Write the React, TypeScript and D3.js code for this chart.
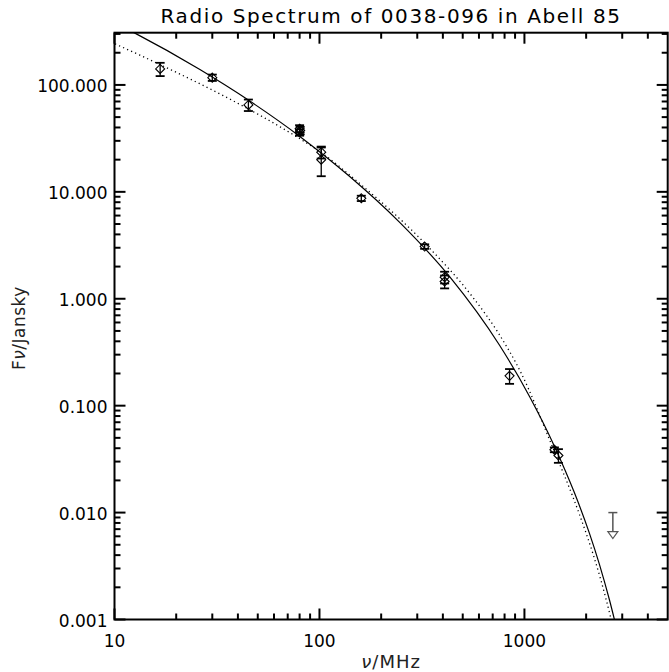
import * as d3 from 'd3';

const titleText = 'Radio Spectrum of 0038-096 in Abell 85';

// measured flux densities (MHz, Jy, 1-sigma error)
const freqMHz = [16.7, 30, 45, 80, 80, 80.5, 102, 102, 160, 326, 408, 408, 846, 1400, 1465];
const fluxJy = [141, 117, 65, 39, 36, 37.5, 23.5, 20, 8.7, 3.08, 1.59, 1.45, 0.19, 0.0387, 0.0342];
const fluxErr = [20, 8, 8, 3, 2.5, 3, 3, 6, 0.5, 0.15, 0.2, 0.2, 0.03, 0.002, 0.005];

// upper limit
const limitFreq = [2700];
const limitFlux = [0.01];

// solid model curve
const fitFreq = [10, 12.45, 26.1, 45.75, 80.2, 140.5, 246.2, 431.5, 756.2, 1059, 1402, 1754, 2076, 2322, 2598, 2907];
const fitFlux = [382, 308.5, 139.2, 70.6, 33.0, 13.9, 5.18, 1.61, 0.367, 0.122, 0.0416, 0.0153, 0.00639, 0.00328, 0.00153, 0.00064];

// dotted model curve
const altFreq = [10.06, 13.31, 16.8, 33.9, 77.25, 100.3, 160.2, 326, 560.3, 742, 964.8, 1351, 1856, 2159, 2341, 2649, 2843];
const altFlux = [241.8, 189.8, 153.9, 79.5, 32.8, 23.8, 11.6, 3.31, 1.031, 0.486, 0.201, 0.044, 0.00959, 0.00412, 0.00247, 0.001, 0.00056];

const xTicks = [10, 100, 1000];
const xTickLabels = ['10', '100', '1000'];
const yTicks = [0.001, 0.01, 0.1, 1, 10, 100];
const yTickLabels = ['0.001', '0.010', '0.100', '1.000', '10.000', '100.000'];

const W = 669;
const H = 672;
const margin = { top: 32.7, right: 1.3, bottom: 52.5, left: 114.5 };
const font = "'DejaVu Sans', sans-serif";

const App = () => {
  const x0 = margin.left;
  const x1 = W - margin.right;
  const y0 = H - margin.bottom;
  const y1 = margin.top;

  const x = d3.scaleLog().domain([10, 5000]).range([x0, x1]);
  const y = d3.scaleLog().domain([0.001, 308]).range([y0, y1]);

  const isMajor = (list: number[], t: number) => list.some(m => Math.abs(m - t) / m < 1e-6);
  const xMinor = x.ticks().filter(t => !isMajor(xTicks, t) && t > 10 && t < 5000);
  const yMinor = y.ticks().filter(t => !isMajor(yTicks, t) && t > 0.001 && t < 308);

  const line = d3.line<[number, number]>()
    .x(d => x(d[0]))
    .y(d => y(d[1]))
    .curve(d3.curveMonotoneX);

  const fitPath = line(fitFreq.map((f, i) => [f, fitFlux[i]])) || '';
  const altPath = line(altFreq.map((f, i) => [f, altFlux[i]])) || '';

  const major = 11;
  const minor = 6;
  const cap = 4.5;
  const dia = 4.5;

  return (
    <svg width={W} height={H} style={{ position: 'absolute', left: 0, top: 0, background: '#fff' }}>
      <defs>
        <clipPath id="plot">
          <rect x={x0} y={y1} width={x1 - x0} height={y0 - y1} />
        </clipPath>
      </defs>
      <rect x={0} y={0} width={W} height={H} fill="#fff" />

      {/* title */}
      <text x={(x0 + x1) / 2} y={22.7} textAnchor="middle" fontFamily={font} fontSize={20} letterSpacing={1.6} fill="#000">
        {titleText}
      </text>

      {/* model curves */}
      <g clipPath="url(#plot)" fill="none" stroke="#000">
        <path d={fitPath} strokeWidth={1.2} />
        <path d={altPath} strokeWidth={1.3} strokeDasharray="1.2 3.2" />
      </g>

      {/* data points */}
      <g stroke="#000" fill="none" strokeWidth={1.3}>
        {freqMHz.map((f, i) => {
          const cx = x(f);
          const cy = y(fluxJy[i]);
          const top = y(fluxJy[i] + fluxErr[i]);
          const bot = y(fluxJy[i] - fluxErr[i]);
          return (
            <g key={i}>
              <line x1={cx} x2={cx} y1={top} y2={bot} />
              <line x1={cx - cap} x2={cx + cap} y1={top} y2={top} strokeWidth={1.8} />
              <line x1={cx - cap} x2={cx + cap} y1={bot} y2={bot} strokeWidth={1.8} />
              <path d={`M${cx},${cy - dia}L${cx + dia},${cy}L${cx},${cy + dia}L${cx - dia},${cy}Z`} strokeWidth={1.1} />
            </g>
          );
        })}
      </g>

      {/* upper limit */}
      <g stroke="#555" fill="none" strokeWidth={1.5}>
        {limitFreq.map((f, i) => {
          const cx = x(f);
          const cy = y(limitFlux[i]);
          return (
            <g key={i}>
              <line x1={cx - cap} x2={cx + cap} y1={cy} y2={cy} />
              <line x1={cx} x2={cx} y1={cy} y2={cy + 19} />
              <path d={`M${cx - 5},${cy + 19}L${cx + 5},${cy + 19}L${cx},${cy + 26}Z`} strokeWidth={1.2} />
            </g>
          );
        })}
      </g>

      {/* axes box */}
      <rect x={x0} y={y1} width={x1 - x0} height={y0 - y1} fill="none" stroke="#000" strokeWidth={2} />

      {/* ticks on all four sides */}
      <g stroke="#000" strokeWidth={2}>
        {xTicks.map(t => (
          <g key={'xM' + t}>
            <line x1={x(t)} x2={x(t)} y1={y0} y2={y0 - major} />
            <line x1={x(t)} x2={x(t)} y1={y1} y2={y1 + major} />
          </g>
        ))}
        {xMinor.map(t => (
          <g key={'xm' + t}>
            <line x1={x(t)} x2={x(t)} y1={y0} y2={y0 - minor} />
            <line x1={x(t)} x2={x(t)} y1={y1} y2={y1 + minor} />
          </g>
        ))}
        {yTicks.map(t => (
          <g key={'yM' + t}>
            <line x1={x0} x2={x0 + major} y1={y(t)} y2={y(t)} />
            <line x1={x1} x2={x1 - major} y1={y(t)} y2={y(t)} />
          </g>
        ))}
        {yMinor.map(t => (
          <g key={'ym' + t}>
            <line x1={x0} x2={x0 + minor} y1={y(t)} y2={y(t)} />
            <line x1={x1} x2={x1 - minor} y1={y(t)} y2={y(t)} />
          </g>
        ))}
      </g>

      {/* tick labels */}
      <g fontFamily={font} fontSize={17} fill="#000">
        {yTicks.map((t, i) => (
          <text key={'yl' + t} x={x0 - 7} y={y(t) + 7} textAnchor="end">{yTickLabels[i]}</text>
        ))}
        {xTicks.map((t, i) => (
          <text key={'xl' + t} x={x(t)} y={y0 + 27} textAnchor="middle">{xTickLabels[i]}</text>
        ))}
      </g>

      {/* axis titles */}
      <text x={(x0 + x1) / 2} y={668} textAnchor="middle" fontFamily={font} fontSize={18} letterSpacing={1} fill="#222">
        <tspan fontStyle="italic">ν</tspan>/MHz
      </text>
      <text transform={`translate(25,${(y0 + y1) / 2 + 2}) rotate(-90)`} textAnchor="middle" fontFamily={font} fontSize={17} letterSpacing={0.5} fill="#222">
        F<tspan fontStyle="italic">ν</tspan>/Jansky
      </text>
    </svg>
  );
};

export default App;
